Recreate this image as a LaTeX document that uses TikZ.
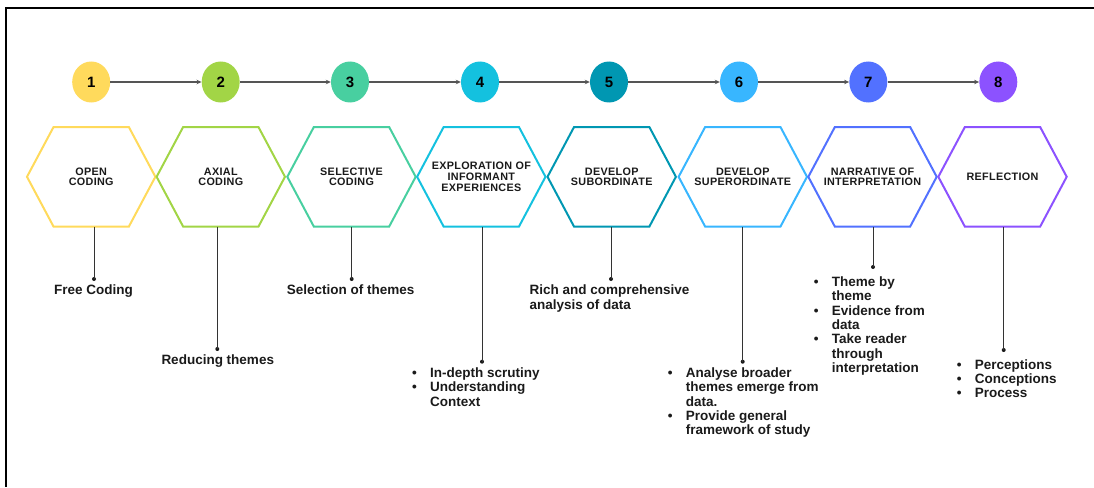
\documentclass[tikz,border=0pt]{standalone}
\usepackage{fontspec}
\setmainfont{Liberation Sans}
\usetikzlibrary{arrows.meta,shapes.geometric}

\definecolor{ink}{HTML}{1A1A1A}
\definecolor{stemgray}{HTML}{333333}
\definecolor{arrowgray}{HTML}{555555}
\definecolor{s1}{HTML}{FFDA5C}
\definecolor{s2}{HTML}{A2D546}
\definecolor{s3}{HTML}{48CFA0}
\definecolor{s4}{HTML}{14C1DF}
\definecolor{s5}{HTML}{0097B2}
\definecolor{s6}{HTML}{38B6FF}
\definecolor{s7}{HTML}{5271FF}
\definecolor{s8}{HTML}{8C52FF}

% bullet item and continuation line inside a note
\newcommand\bl{\makebox[0pt]{\textbullet}\hspace{15.7pt}}
\newcommand\ct{\hspace*{15.7pt}}

% hexagon outline drawn around a placeholder node
\newcommand\hexoutline[2]{%
  \draw[#2, line width=2pt, line join=miter]
    (#1.west) -- ([xshift=26.5pt]#1.north west) -- ([xshift=-26.5pt]#1.north east)
    -- (#1.east) -- ([xshift=-26.5pt]#1.south east) -- ([xshift=26.5pt]#1.south west) -- cycle;}

\begin{document}
\begin{tikzpicture}[x=1pt,y=-1pt,
  num/.style={ellipse, minimum width=38pt, minimum height=41pt, inner sep=0pt,
    font=\fontsize{15}{15}\selectfont\bfseries, text=black},
  hexbox/.style={minimum width=128pt, minimum height=99pt, inner sep=0pt, align=center,
    font=\fontsize{10.8}{10.9}\selectfont\bfseries\addfontfeatures{LetterSpace=3}, text=ink},
  link/.style={draw=arrowgray, line width=1.3pt, -{Stealth[length=5pt,width=4.5pt]}},
  stem/.style={draw=stemgray, line width=0.9pt},
  dot/.style={circle, fill=ink, inner sep=0pt, minimum size=4pt},
  note/.style={anchor=base west, inner sep=0pt, align=left,
    font=\fontsize{13.5}{14.3}\selectfont\bfseries, text=ink}]
\useasboundingbox (0,0) rectangle (1094,487);

% frame
\draw[black, line width=2.2pt] (1094,7.7) -- (6,7.7) -- (6,487);

% step numbers
\node[num, fill=s1] (n1) at (91.2,82) {1};
\node[num, fill=s2] (n2) at (220.7,82) {2};
\node[num, fill=s3] (n3) at (350,82) {3};
\node[num, fill=s4] (n4) at (480,82) {4};
\node[num, fill=s5] (n5) at (609,82) {5};
\node[num, fill=s6] (n6) at (739,82) {6};
\node[num, fill=s7] (n7) at (868.3,82) {7};
\node[num, fill=s8] (n8) at (998.3,82) {8};

\foreach \a/\b in {n1/n2,n2/n3,n3/n4,n4/n5,n5/n6,n6/n7,n7/n8}
  \draw[link] (\a) -- (\b);

% stages
\node[hexbox] (h1) at (91.2,176.8) {OPEN\\CODING};
\node[hexbox] (h2) at (220.8,176.8) {AXIAL\\CODING};
\node[hexbox] (h3) at (351.5,176.8) {SELECTIVE\\CODING};
\node[hexbox] (h4) at (481.3,176.8) {EXPLORATION OF\\INFORMANT\\EXPERIENCES};
\node[hexbox] (h5) at (611.7,176.8) {DEVELOP\\SUBORDINATE};
\node[hexbox] (h6) at (742.8,176.8) {DEVELOP\\SUPERORDINATE};
\node[hexbox] (h7) at (872.5,176.8) {NARRATIVE OF\\INTERPRETATION};
\node[hexbox] (h8) at (1002.5,176.8) {REFLECTION};

\hexoutline{h1}{s1}
\hexoutline{h2}{s2}
\hexoutline{h3}{s3}
\hexoutline{h4}{s4}
\hexoutline{h5}{s5}
\hexoutline{h6}{s6}
\hexoutline{h7}{s7}
\hexoutline{h8}{s8}

% stems ending in dots
\node[dot] (d1) at (94,279) {};
\node[dot] (d2) at (217.3,349) {};
\node[dot] (d3) at (351.7,279) {};
\node[dot] (d4) at (482,361.7) {};
\node[dot] (d5) at (611,279) {};
\node[dot] (d6) at (742.7,361.7) {};
\node[dot] (d7) at (873,267) {};
\node[dot] (d8) at (1003.7,350) {};

\foreach \i in {1,...,8}
  \draw[stem] (h\i.south -| d\i) -- (d\i.center);

% notes
\node[note] (t1) at (54,294.5) {Free Coding};
\node[note] (t2) at (161.3,364) {Reducing themes};
\node[note] (t3) at (286.7,294.5) {Selection of themes};
\node[note] (t4) at (414.3,377.5) {\begin{tabular}[t]{@{}l@{}}
  \bl In-depth scrutiny\\ \bl Understanding\\ \ct Context\end{tabular}};
\node[note] (t5) at (529.3,294.8) {\begin{tabular}[t]{@{}l@{}}
  Rich and comprehensive\\ analysis of data\end{tabular}};
\node[note] (t6) at (670,377.5) {\begin{tabular}[t]{@{}l@{}}
  \bl Analyse broader\\ \ct themes emerge from\\ \ct data.\\
  \bl Provide general\\ \ct framework of study\end{tabular}};
\node[note] (t7) at (816,286.5) {\begin{tabular}[t]{@{}l@{}}
  \bl Theme by\\ \ct theme\\ \bl Evidence from\\ \ct data\\
  \bl Take reader\\ \ct through\\ \ct interpretation\end{tabular}};
\node[note] (t8) at (959,369) {\begin{tabular}[t]{@{}l@{}}
  \bl Perceptions\\ \bl Conceptions\\ \bl Process\end{tabular}};
\end{tikzpicture}
\end{document}
